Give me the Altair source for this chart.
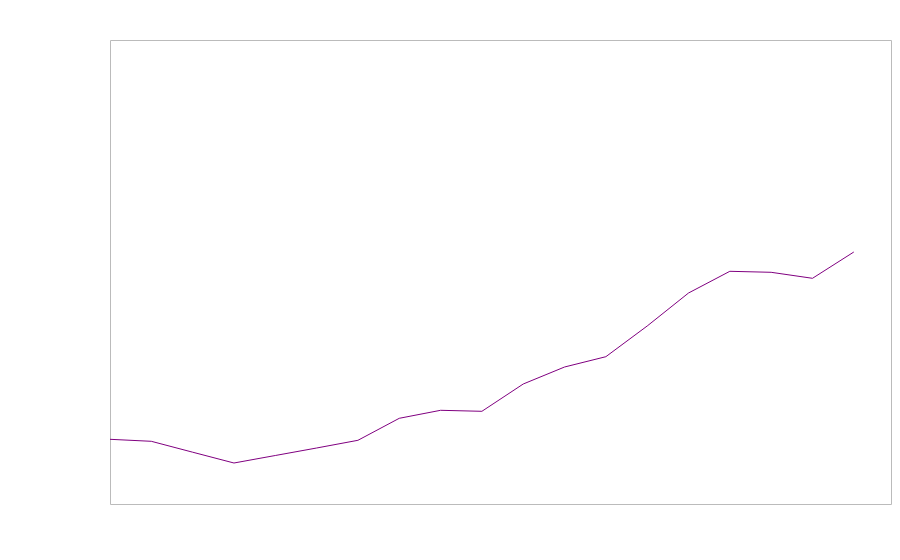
import altair as alt
import pandas as pd

years = list(range(2000, 2019))
values = [64.7, 62.7, 51.8, 41.0, 48.5, 56.0, 63.7, 85.7, 93.7, 92.7,
          120.0, 137.0, 147.3, 178.0, 211.0, 232.7, 231.7, 225.7, 252.0]

df = pd.DataFrame({"year": years, "value": values})

chart = alt.Chart(df).mark_line(color="#800080", strokeWidth=1).encode(
    x=alt.X("year:Q", axis=None, scale=alt.Scale(domain=[2000, 2018.9], nice=False, zero=False)),
    y=alt.Y("value:Q", axis=None, scale=alt.Scale(domain=[0, 464], nice=False)),
).properties(
    width=781,
    height=464,
    autosize=alt.AutoSizeParams(type="none"),
    padding={"left": 102, "top": 32, "right": 1, "bottom": 2},
).configure_view(
    stroke="#bbbbbb",
    strokeWidth=1,
)

chart.save("out.html", embed_options={"renderer": "svg", "actions": False})
